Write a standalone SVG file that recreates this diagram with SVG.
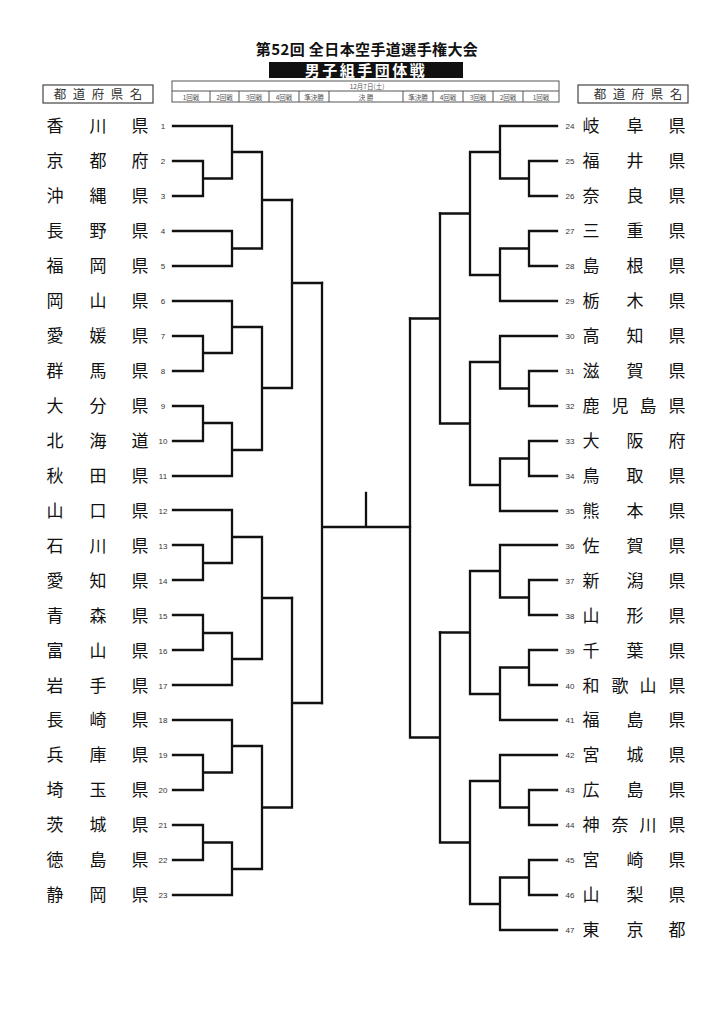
<svg xmlns="http://www.w3.org/2000/svg" width="724" height="1024" viewBox="0 0 724 1024">
<style>
.bg{fill:#ffffff}
.title{font-family:"Noto Sans CJK JP","Noto Sans",sans-serif;font-weight:bold;fill:#111}
.box{fill:none;stroke:#444;stroke-width:1.2}
.hdr{font-family:"Noto Sans CJK JP",sans-serif;font-size:12.5px;fill:#333}
.tbl{fill:none;stroke:#555;stroke-width:1}
.tt{font-family:"Noto Sans CJK JP",serif;font-size:6.5px;fill:#555;text-anchor:middle}
.nm{font-family:"Noto Sans CJK JP",sans-serif;font-size:17px;fill:#111;text-anchor:middle}
.num{font-family:"Liberation Sans",sans-serif;font-size:8px;fill:#333;text-anchor:middle}
.ln{fill:none;stroke:#111;stroke-width:2.3;stroke-linecap:square;stroke-linejoin:miter}
</style>
<rect class="bg" x="0" y="0" width="724" height="1024"/>
<g id="header">
<text class="title" x="367" y="54.5" font-size="15" text-anchor="middle" letter-spacing="0.4">第52回 全日本空手道選手権大会</text>
<rect x="269" y="62" width="194" height="16" fill="#111"/>
<text class="title" x="366" y="76" font-size="15" text-anchor="middle" style="fill:#fff" letter-spacing="2.5">男子組手団体戦</text>
</g>
<g id="pref-header-left">
<rect class="box" x="43" y="85" width="110" height="18"/>
<text class="hdr" x="60 79 98 117 136" y="99" text-anchor="middle">都道府県名</text>
</g>
<g id="pref-header-right">
<rect class="box" x="578" y="85" width="110" height="18"/>
<text class="hdr" x="600 619 638 657 676" y="99" text-anchor="middle">都道府県名</text>
</g>
<g id="schedule">
<rect class="tbl" x="172" y="81" width="387" height="21"/>
<line class="tbl" x1="172" y1="91" x2="559" y2="91"/>
<path class="tbl" d="M210 91V102M239 91V102M269 91V102M299 91V102M329 91V102M403 91V102M433 91V102M463 91V102M493 91V102M523 91V102"/>
<text class="tt" x="367" y="89">12月7日(土)</text>
<text class="tt" x="191" y="99.5">1回戦</text>
<text class="tt" x="224.5" y="99.5">2回戦</text>
<text class="tt" x="254" y="99.5">3回戦</text>
<text class="tt" x="284" y="99.5">4回戦</text>
<text class="tt" x="314" y="99.5">準決勝</text>
<text class="tt" x="366" y="99.5">決 勝</text>
<text class="tt" x="418" y="99.5">準決勝</text>
<text class="tt" x="448" y="99.5">4回戦</text>
<text class="tt" x="478" y="99.5">3回戦</text>
<text class="tt" x="508" y="99.5">2回戦</text>
<text class="tt" x="541" y="99.5">1回戦</text>
</g>
<g id="connectors">
<path class="ln" d="M173 126H232V178.5M173 161H203V196H173M203 178.5H232M232 152H262M173 231H232V266H173M232 248.5H262M262 152V248.5M262 200H292"/>
<path class="ln" d="M173 301H232V353M173 336H203V371H173M203 353H232M232 327H262M173 406H203V441H173M203 423H232M173 476H232V423M232 450H262M262 327V450M262 388H292M292 200V388M292 283H322"/>
<path class="ln" d="M173 510H232V563M173 545H203V580H173M203 563H232M232 537H262M173 615H203V650H173M203 633H232M173 685H232V633M232 659H262M262 537V659M262 598H292"/>
<path class="ln" d="M173 720H232V772.5M173 755H203V790H173M203 772.5H232M232 746H262M173 825H203V860H173M203 842.5H232M173 895H232V842.5M232 869H262M262 746V869M262 807.5H292M292 598V807.5M292 703H322"/>
<path class="ln" d="M322 283V703M322 527H410M366 493V527"/>
<path class="ln" d="M557 126H500V178.5M557 161H529V196H557M529 178.5H500M500 152H470M557 231H529V266H557M529 248.5H500M557 301H500V248.5M500 275H470M470 152V275M470 213.5H440"/>
<path class="ln" d="M557 336H500V388.5M557 371H529V406H557M529 388.5H500M500 362H470M557 441H529V476H557M529 458.5H500M557 511H500V458.5M500 485H470M470 362V485M470 423.5H440M440 213.5V423.5M440 318.5H410"/>
<path class="ln" d="M557 545H500V597.5M557 580H529V615H557M529 597.5H500M500 571H470M557 650H529V685H557M529 667.5H500M557 720H500V667.5M500 694H470M470 571V694M470 632.5H440"/>
<path class="ln" d="M557 755H500V807.5M557 790H529V825H557M529 807.5H500M500 781H470M557 860H529V895H557M529 877.5H500M557 930H500V877.5M500 904H470M470 781V904M470 842.5H440M440 632.5V842.5M440 737.5H410M410 318.5V737.5"/>
</g>
<g id="t1"><text class="nm" x="55 98 140" y="132">香川県</text><text class="num" x="163" y="129">1</text></g>
<g id="t2"><text class="nm" x="55 98 140" y="167">京都府</text><text class="num" x="163" y="164">2</text></g>
<g id="t3"><text class="nm" x="55 98 140" y="202">沖縄県</text><text class="num" x="163" y="199">3</text></g>
<g id="t4"><text class="nm" x="55 98 140" y="237">長野県</text><text class="num" x="163" y="234">4</text></g>
<g id="t5"><text class="nm" x="55 98 140" y="272">福岡県</text><text class="num" x="163" y="269">5</text></g>
<g id="t6"><text class="nm" x="55 98 140" y="307">岡山県</text><text class="num" x="163" y="304">6</text></g>
<g id="t7"><text class="nm" x="55 98 140" y="342">愛媛県</text><text class="num" x="163" y="339">7</text></g>
<g id="t8"><text class="nm" x="55 98 140" y="377">群馬県</text><text class="num" x="163" y="374">8</text></g>
<g id="t9"><text class="nm" x="55 98 140" y="412">大分県</text><text class="num" x="163" y="409">9</text></g>
<g id="t10"><text class="nm" x="55 98 140" y="447">北海道</text><text class="num" x="163" y="444">10</text></g>
<g id="t11"><text class="nm" x="55 98 140" y="482">秋田県</text><text class="num" x="163" y="479">11</text></g>
<g id="t12"><text class="nm" x="55 98 140" y="516.5">山口県</text><text class="num" x="163" y="513.5">12</text></g>
<g id="t13"><text class="nm" x="55 98 140" y="551.5">石川県</text><text class="num" x="163" y="548.5">13</text></g>
<g id="t14"><text class="nm" x="55 98 140" y="586.5">愛知県</text><text class="num" x="163" y="583.5">14</text></g>
<g id="t15"><text class="nm" x="55 98 140" y="621.5">青森県</text><text class="num" x="163" y="618.5">15</text></g>
<g id="t16"><text class="nm" x="55 98 140" y="656.5">富山県</text><text class="num" x="163" y="653.5">16</text></g>
<g id="t17"><text class="nm" x="55 98 140" y="691.5">岩手県</text><text class="num" x="163" y="688.5">17</text></g>
<g id="t18"><text class="nm" x="55 98 140" y="726">長崎県</text><text class="num" x="163" y="723">18</text></g>
<g id="t19"><text class="nm" x="55 98 140" y="761">兵庫県</text><text class="num" x="163" y="758">19</text></g>
<g id="t20"><text class="nm" x="55 98 140" y="796">埼玉県</text><text class="num" x="163" y="793">20</text></g>
<g id="t21"><text class="nm" x="55 98 140" y="831">茨城県</text><text class="num" x="163" y="828">21</text></g>
<g id="t22"><text class="nm" x="55 98 140" y="866">徳島県</text><text class="num" x="163" y="863">22</text></g>
<g id="t23"><text class="nm" x="55 98 140" y="901">静岡県</text><text class="num" x="163" y="898">23</text></g>
<g id="t24"><text class="num" x="570" y="129">24</text><text class="nm" x="591 635 677" y="132">岐阜県</text></g>
<g id="t25"><text class="num" x="570" y="164">25</text><text class="nm" x="591 635 677" y="167">福井県</text></g>
<g id="t26"><text class="num" x="570" y="199">26</text><text class="nm" x="591 635 677" y="202">奈良県</text></g>
<g id="t27"><text class="num" x="570" y="234">27</text><text class="nm" x="591 635 677" y="237">三重県</text></g>
<g id="t28"><text class="num" x="570" y="269">28</text><text class="nm" x="591 635 677" y="272">島根県</text></g>
<g id="t29"><text class="num" x="570" y="304">29</text><text class="nm" x="591 635 677" y="307">栃木県</text></g>
<g id="t30"><text class="num" x="570" y="339">30</text><text class="nm" x="591 635 677" y="342">高知県</text></g>
<g id="t31"><text class="num" x="570" y="374">31</text><text class="nm" x="591 635 677" y="377">滋賀県</text></g>
<g id="t32"><text class="num" x="570" y="409">32</text><text class="nm" x="591 620 648 677" y="412">鹿児島県</text></g>
<g id="t33"><text class="num" x="570" y="444">33</text><text class="nm" x="591 635 677" y="447">大阪府</text></g>
<g id="t34"><text class="num" x="570" y="479">34</text><text class="nm" x="591 635 677" y="482">鳥取県</text></g>
<g id="t35"><text class="num" x="570" y="514">35</text><text class="nm" x="591 635 677" y="517">熊本県</text></g>
<g id="t36"><text class="num" x="570" y="548.5">36</text><text class="nm" x="591 635 677" y="551.5">佐賀県</text></g>
<g id="t37"><text class="num" x="570" y="583.5">37</text><text class="nm" x="591 635 677" y="586.5">新潟県</text></g>
<g id="t38"><text class="num" x="570" y="618.5">38</text><text class="nm" x="591 635 677" y="621.5">山形県</text></g>
<g id="t39"><text class="num" x="570" y="653.5">39</text><text class="nm" x="591 635 677" y="656.5">千葉県</text></g>
<g id="t40"><text class="num" x="570" y="688.5">40</text><text class="nm" x="591 620 648 677" y="691.5">和歌山県</text></g>
<g id="t41"><text class="num" x="570" y="723">41</text><text class="nm" x="591 635 677" y="726">福島県</text></g>
<g id="t42"><text class="num" x="570" y="758">42</text><text class="nm" x="591 635 677" y="761">宮城県</text></g>
<g id="t43"><text class="num" x="570" y="793">43</text><text class="nm" x="591 635 677" y="796">広島県</text></g>
<g id="t44"><text class="num" x="570" y="828">44</text><text class="nm" x="591 620 648 677" y="831">神奈川県</text></g>
<g id="t45"><text class="num" x="570" y="863">45</text><text class="nm" x="591 635 677" y="866">宮崎県</text></g>
<g id="t46"><text class="num" x="570" y="898">46</text><text class="nm" x="591 635 677" y="901">山梨県</text></g>
<g id="t47"><text class="num" x="570" y="933">47</text><text class="nm" x="591 635 677" y="936">東京都</text></g>
</svg>
